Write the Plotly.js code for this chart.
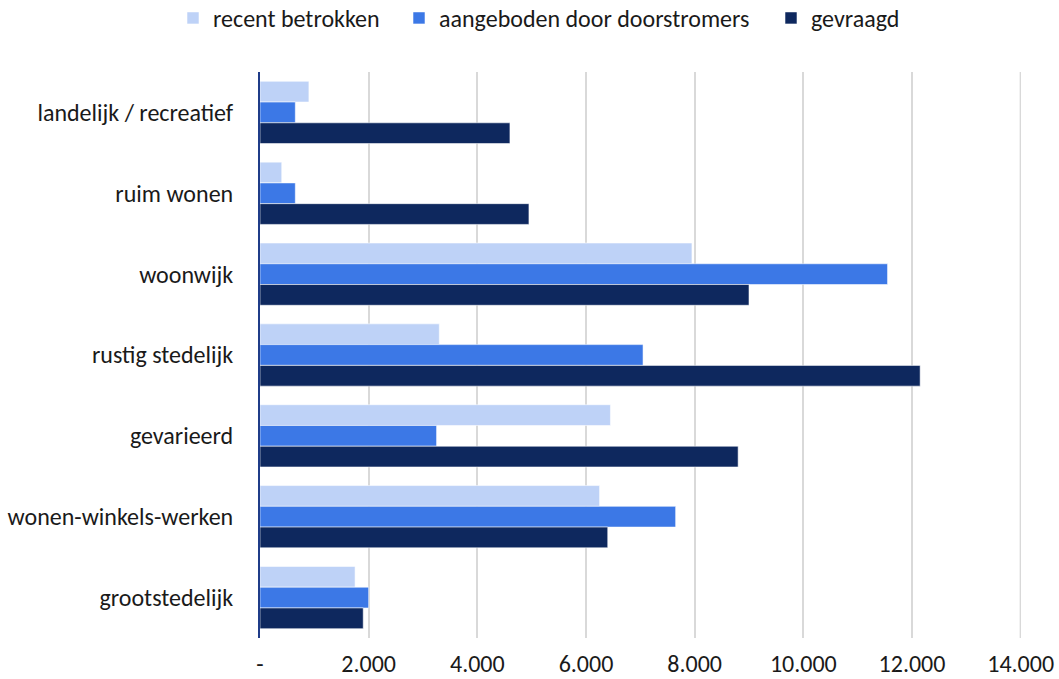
<!DOCTYPE html>
<html>
<head>
<meta charset="utf-8">
<script src="https://cdn.plot.ly/plotly-3.0.1.min.js"></script>
<style>
  html, body { margin: 0; padding: 0; background: #ffffff; }
  #chart { width: 1059px; height: 679px; }
</style>
</head>
<body>
<div id="chart"></div>
<script>
// Woonmilieus: recent betrokken, aangeboden door doorstromers en gevraagd
const categories = [
  'landelijk / recreatief',
  'ruim wonen',
  'woonwijk',
  'rustig stedelijk',
  'gevarieerd',
  'wonen-winkels-werken',
  'grootstedelijk'
];
const recentBetrokken = [900, 400, 7950, 3300, 6450, 6250, 1750];
const aangeboden      = [650, 650, 11550, 7050, 3250, 7650, 2000];
const gevraagd        = [4600, 4950, 9000, 12150, 8800, 6400, 1900];

const seriesNames = ['recent betrokken', 'aangeboden door doorstromers', 'gevraagd'];
const seriesColors = ['#bed2f7', '#3c78e6', '#0e285e'];

const xTickVals = [0, 2000, 4000, 6000, 8000, 10000, 12000, 14000];
const xTickText = ['-', '2.000', '4.000', '6.000', '8.000', '10.000', '12.000', '14.000'];

const fontFamily = 'Carlito, Calibri, Lato, "Open Sans", sans-serif';
const fontSize = 24;
const gridColor = '#d9d9d9';

// each series gets its own legend box so the entries can be spaced freely
const legendIds = ['legend', 'legend2', 'legend3'];
const legendX = [173, 399, 771];

const traces = [recentBetrokken, aangeboden, gevraagd].map((vals, i) => ({
  type: 'bar',
  orientation: 'h',
  name: seriesNames[i],
  legend: legendIds[i],
  x: vals,
  y: categories,
  marker: {
    color: seriesColors[i],
    line: { color: 'rgba(255,255,255,0.55)', width: 1 }
  },
  hoverinfo: 'x+name'
}));

const xMax = xTickVals[xTickVals.length - 1];

const layout = {
  width: 1059,
  height: 679,
  paper_bgcolor: '#ffffff',
  plot_bgcolor: '#ffffff',
  margin: { l: 260, r: 38, t: 72, b: 41, autoexpand: false },
  barmode: 'group',
  bargap: 0.23,
  bargroupgap: 0,
  font: { family: fontFamily, size: fontSize, color: '#1a1a1a' },
  showlegend: true,
  // closing gridline at the end of the value axis
  shapes: [{
    type: 'line', layer: 'below',
    xref: 'x', yref: 'paper',
    x0: xMax, x1: xMax, y0: 0, y1: 1,
    line: { color: gridColor, width: 2 }
  }],
  xaxis: {
    range: [0, xMax + 6],
    tickvals: xTickVals,
    ticktext: xTickText,
    showgrid: true,
    gridcolor: gridColor,
    gridwidth: 2,
    zeroline: false,
    showline: false,
    ticks: '',
    ticklabelstandoff: 9,
    tickfont: { family: fontFamily, size: fontSize, color: '#1a1a1a' },
    fixedrange: true
  },
  yaxis: {
    type: 'category',
    autorange: 'reversed',
    showgrid: false,
    zeroline: false,
    showline: true,
    linecolor: '#1f3c88',
    linewidth: 2,
    ticks: '',
    ticklabelstandoff: 20,
    tickfont: { family: fontFamily, size: fontSize, color: '#1a1a1a' },
    fixedrange: true
  }
};

legendIds.forEach((id, i) => {
  layout[id] = {
    orientation: 'h',
    xref: 'container',
    yref: 'container',
    x: legendX[i] / 1059,
    xanchor: 'left',
    y: 0.973,
    yanchor: 'middle',
    font: { family: fontFamily, size: fontSize, color: '#1a1a1a' },
    itemwidth: 30,
    bgcolor: 'rgba(0,0,0,0)'
  };
});

Plotly.newPlot('chart', traces, layout, { displayModeBar: false, staticPlot: true });
</script>
</body>
</html>
